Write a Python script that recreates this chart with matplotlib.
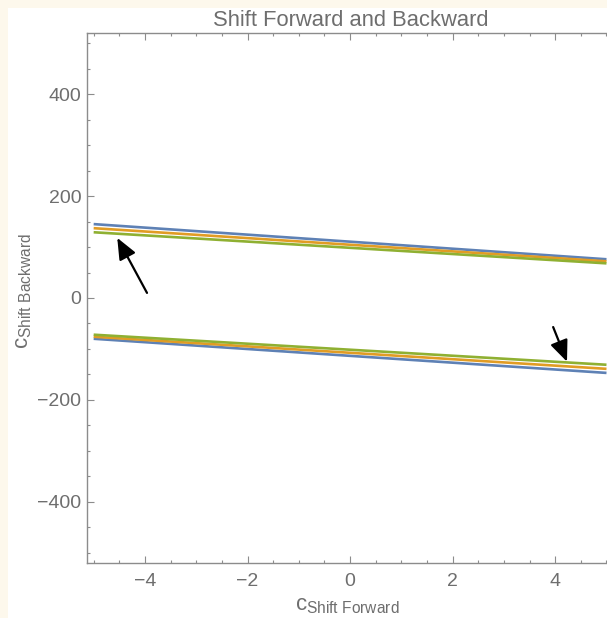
import matplotlib
matplotlib.use("Agg")
import matplotlib.pyplot as plt
from matplotlib.patches import Rectangle
from matplotlib.ticker import MultipleLocator

plt.rcParams['font.family'] = ['Liberation Sans', 'DejaVu Sans']
plt.rcParams['mathtext.fontset'] = 'custom'
plt.rcParams['mathtext.rm'] = 'Liberation Sans'
plt.rcParams['mathtext.it'] = 'Liberation Sans'

# data: straight lines given by their endpoints
x_ends = [-5, 5]
upper_blue = [145, 76]
upper_orange = [137, 72]
upper_green = [129, 68]
lower_blue = [-80, -147]
lower_orange = [-76, -139]
lower_green = [-72, -131]

series_names = ["blue", "orange", "green"]
colors = {"blue": "#5E81B5", "orange": "#E19C24", "green": "#8FB032"}

arrow1 = {"tail": (-3.96, 10), "head": (-4.54, 118)}
arrow2 = {"tail": (3.96, -57), "head": (4.23, -125)}

W, H = 607, 618
fig = plt.figure(figsize=(W / 100, H / 100), dpi=100)
fig.patch.set_facecolor("#FDF8EC")
bg = Rectangle((8 / W, 0), 1, 1 - 8 / H, transform=fig.transFigure,
               facecolor="white", edgecolor="none", zorder=-5)
fig.patches.append(bg)

ax = fig.add_axes([87 / W, 55 / H, (W - 87) / W, (563 - 33) / H])
ax.set_zorder(2)
ax.set_facecolor("white")

for name, yu, yl in zip(series_names, [upper_blue, upper_orange, upper_green],
                        [lower_blue, lower_orange, lower_green]):
    ax.plot(x_ends, yu, color=colors[name], lw=1.9, solid_capstyle="butt")
    ax.plot(x_ends, yl, color=colors[name], lw=1.9, solid_capstyle="butt")

for a in (arrow1, arrow2):
    ax.annotate("", xy=a["head"], xytext=a["tail"],
                arrowprops=dict(arrowstyle="-|>,head_length=1.3,head_width=0.55",
                                color="black", lw=1.6, shrinkA=0, shrinkB=0))

ax.set_xlim(-5.13, 5.01)
ax.set_ylim(-520, 520)

frame_col = "#8C8C8C"
for s in ("left", "bottom", "top"):
    ax.spines[s].set_color(frame_col)
    ax.spines[s].set_linewidth(1.0)
ax.spines["right"].set_visible(False)

ax.xaxis.set_major_locator(MultipleLocator(2))
ax.xaxis.set_minor_locator(MultipleLocator(0.5))
ax.yaxis.set_major_locator(MultipleLocator(200))
ax.yaxis.set_minor_locator(MultipleLocator(50))
ax.tick_params(which="both", direction="in", color=frame_col, top=True, right=False,
               labelcolor="#6E6E6E", labelsize=14, width=0.8)
ax.tick_params(which="major", length=5)
ax.tick_params(axis="x", which="major", pad=7)
ax.tick_params(axis="y", which="major", pad=4)
ax.tick_params(which="minor", length=2.5)
xt = [-4, -2, 0, 2, 4]
ax.set_xticks(xt)
ax.set_xticklabels([("\u2212" + str(abs(v))) if v < 0 else str(v) for v in xt])
yt = [-400, -200, 0, 200, 400]
ax.set_yticks(yt)
ax.set_yticklabels([("\u2212" + str(abs(v))) if v < 0 else str(v) for v in yt])

fig.text(351 / W, 1 - 21 / H, "Shift Forward and Backward", ha="center", va="center",
         fontsize=15.8, color="#6E6E6E")
fig.text(347 / W, 1 - 605 / H, r"$c_{\rm Shift\ Forward}$", ha="center", va="center",
         fontsize=16, color="#6E6E6E")
fig.text(24 / W, 1 - 291 / H, r"$c_{\rm Shift\ Backward}$", ha="center", va="center",
         fontsize=16, color="#6E6E6E", rotation=90)

fig.savefig("out.png", dpi=100, facecolor=fig.get_facecolor())
